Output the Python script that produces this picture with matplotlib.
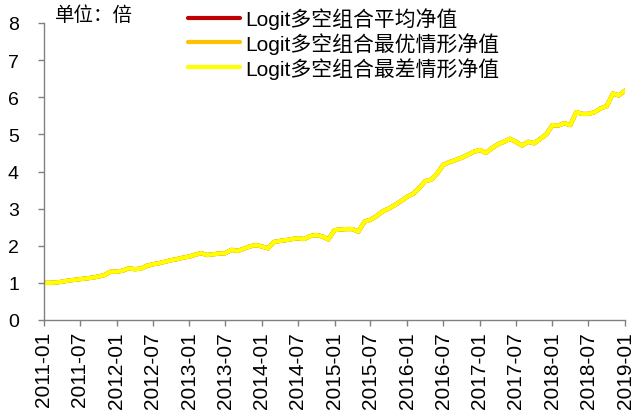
import matplotlib
matplotlib.use("Agg")
import matplotlib.pyplot as plt
import matplotlib.dates as mdates
import pandas as pd

plt.rcParams["font.family"] = ["Liberation Sans", "Noto Sans CJK SC"]

# monthly net value readings, 2011-01 .. 2019-01
months = pd.date_range("2011-01-01", "2019-01-01", freq="MS")
avg_nav = [
    1.00, 1.00, 1.01, 1.03, 1.06, 1.08, 1.10, 1.12, 1.14, 1.17, 1.21, 1.30,
    1.30, 1.33, 1.39, 1.37, 1.38, 1.46, 1.50, 1.53, 1.57, 1.61, 1.64, 1.68,
    1.71, 1.76, 1.80, 1.75, 1.77, 1.79, 1.80, 1.89, 1.86, 1.92, 1.98, 2.02,
    1.98, 1.93, 2.10, 2.13, 2.15, 2.18, 2.20, 2.18, 2.26, 2.29, 2.25, 2.17,
    2.42, 2.44, 2.45, 2.45, 2.38, 2.65, 2.70, 2.80, 2.93, 3.00, 3.10, 3.20,
    3.32, 3.40, 3.55, 3.74, 3.78, 3.95, 4.18, 4.25, 4.31, 4.37, 4.45, 4.53,
    4.58, 4.50, 4.62, 4.73, 4.80, 4.88, 4.80, 4.70, 4.80, 4.76, 4.88, 5.00,
    5.25, 5.24, 5.30, 5.25, 5.60, 5.55, 5.55, 5.60, 5.70, 5.76, 6.10, 6.05,
    6.18,
]
# the three curves overlap completely in the picture
best_nav = list(avg_nav)
worst_nav = list(avg_nav)

series_labels = ["Logit多空组合平均净值", "Logit多空组合最优情形净值", "Logit多空组合最差情形净值"]
series_colors = ["#C00000", "#FFC000", "#FFFF00"]
tick_dates = pd.date_range("2011-01-01", "2019-01-01", freq="6MS")

fig = plt.figure(figsize=(6.33, 4.14), dpi=100)
ax = fig.add_axes([44 / 633, 1 - 321 / 414, 581 / 633, 297 / 414])

for vals, label, color in zip([avg_nav, best_nav, worst_nav], series_labels, series_colors):
    ax.plot(months, vals, color=color, linewidth=3.0, label=label, solid_capstyle="round")

ax.set_ylim(0, 8)
ax.set_yticks(range(0, 9))
ax.set_xlim(months[0], months[-1])
ax.set_xticks(tick_dates)
ax.xaxis.set_major_formatter(mdates.DateFormatter("%Y-%m"))

for side in ("top", "right"):
    ax.spines[side].set_visible(False)
for side in ("left", "bottom"):
    ax.spines[side].set_color("#808080")
    ax.spines[side].set_linewidth(1.0)

ax.tick_params(axis="both", direction="out", length=4, width=1, color="#808080")
ax.tick_params(axis="y", labelsize=14, pad=14)
ax.tick_params(axis="x", labelsize=15, pad=4, rotation=90)

fig.text(55 / 633, 1 - 15 / 414, "单位：倍", fontsize=14, va="center", ha="left",
         family=["Noto Sans CJK SC"])

ax.legend(loc="upper left", bbox_to_anchor=(188 / 633, 1 - 8 / 414),
          bbox_transform=fig.transFigure, frameon=False, fontsize=15,
          borderpad=0, borderaxespad=0, handlelength=2.5, handletextpad=0.25,
          labelspacing=0.15)

fig.savefig("out.png", dpi=100)
